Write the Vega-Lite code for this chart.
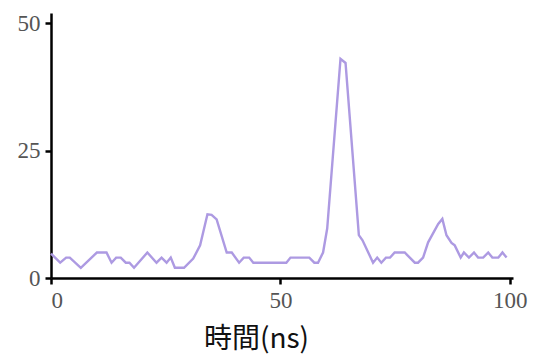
{
  "$schema": "https://vega.github.io/schema/vega-lite/v6.json",
  "autosize": {"type": "none"},
  "width": 462,
  "height": 265,
  "padding": {"left": 51, "top": 13, "right": 24, "bottom": 80},
  "background": "white",
  "config": {"view": {"stroke": null}},
  "data": {"values": [
    {"t": 0, "v": 4.8}, {"t": 2, "v": 3}, {"t": 3.3, "v": 4}, {"t": 4.1, "v": 4}, {"t": 6.5, "v": 2},
    {"t": 10, "v": 5}, {"t": 12.1, "v": 5}, {"t": 13.2, "v": 3}, {"t": 14.2, "v": 4}, {"t": 15.2, "v": 4},
    {"t": 16.3, "v": 3}, {"t": 17.1, "v": 3}, {"t": 18.1, "v": 2}, {"t": 21, "v": 5}, {"t": 23, "v": 3},
    {"t": 24.1, "v": 4}, {"t": 25.2, "v": 3}, {"t": 26.1, "v": 4}, {"t": 27, "v": 2}, {"t": 29, "v": 2},
    {"t": 31, "v": 3.8}, {"t": 32.5, "v": 6.4}, {"t": 34.1, "v": 12.5}, {"t": 35, "v": 12.4}, {"t": 36.1, "v": 11.5},
    {"t": 38.3, "v": 5}, {"t": 39.4, "v": 5}, {"t": 41, "v": 3}, {"t": 42, "v": 4}, {"t": 43.2, "v": 4},
    {"t": 44.1, "v": 3}, {"t": 51.3, "v": 3}, {"t": 52.2, "v": 4}, {"t": 56.3, "v": 4}, {"t": 57.4, "v": 3},
    {"t": 58.2, "v": 3}, {"t": 59.3, "v": 5}, {"t": 60.2, "v": 9.7}, {"t": 63.1, "v": 43}, {"t": 64.2, "v": 42.2},
    {"t": 67.1, "v": 8.4}, {"t": 67.9, "v": 7.4}, {"t": 70.2, "v": 3}, {"t": 71.1, "v": 4}, {"t": 72, "v": 3},
    {"t": 73, "v": 4}, {"t": 73.9, "v": 4}, {"t": 74.9, "v": 5}, {"t": 77.1, "v": 5}, {"t": 79.3, "v": 3},
    {"t": 80, "v": 3}, {"t": 81.1, "v": 4}, {"t": 82.2, "v": 7}, {"t": 84.4, "v": 10.6}, {"t": 85.3, "v": 11.6},
    {"t": 86.2, "v": 8.4}, {"t": 87.3, "v": 6.9}, {"t": 88, "v": 6.4}, {"t": 89.3, "v": 4}, {"t": 90, "v": 5},
    {"t": 91.1, "v": 4}, {"t": 92.2, "v": 5}, {"t": 93.1, "v": 4}, {"t": 94.2, "v": 4}, {"t": 95.3, "v": 5},
    {"t": 96.2, "v": 4}, {"t": 97.5, "v": 4}, {"t": 98.4, "v": 5}, {"t": 99.3, "v": 4}
  ]},
  "mark": {"type": "line", "color": "#ad9ae2", "strokeWidth": 2.4},
  "encoding": {
    "x": {
      "field": "t", "type": "quantitative",
      "scale": {"domain": [0, 100.7], "nice": false, "zero": false},
      "axis": {
        "values": [0, 50, 100], "grid": false,
        "title": "時間(ns)", "titleFont": "Noto Sans CJK JP", "titleFontSize": 28, "titleFontWeight": "normal",
        "titleColor": "#111", "titleX": 205, "titleY": 61, "titleBaseline": "middle", "titleAnchor": "middle",
        "labelFont": "Liberation Serif", "labelFontSize": 23, "labelColor": "#555", "labelPadding": 5,
        "domainColor": "black", "domainWidth": 2.5, "tickColor": "black", "tickWidth": 2.5, "tickSize": 6
      }
    },
    "y": {
      "field": "v", "type": "quantitative",
      "scale": {"domain": [0, 52], "nice": false},
      "axis": {
        "values": [0, 25, 50], "grid": false, "title": null,
        "labelFont": "Liberation Serif", "labelFontSize": 23, "labelColor": "#555", "labelPadding": 5,
        "domainColor": "black", "domainWidth": 2.5, "tickColor": "black", "tickWidth": 2.5, "tickSize": 6
      }
    }
  }
}
